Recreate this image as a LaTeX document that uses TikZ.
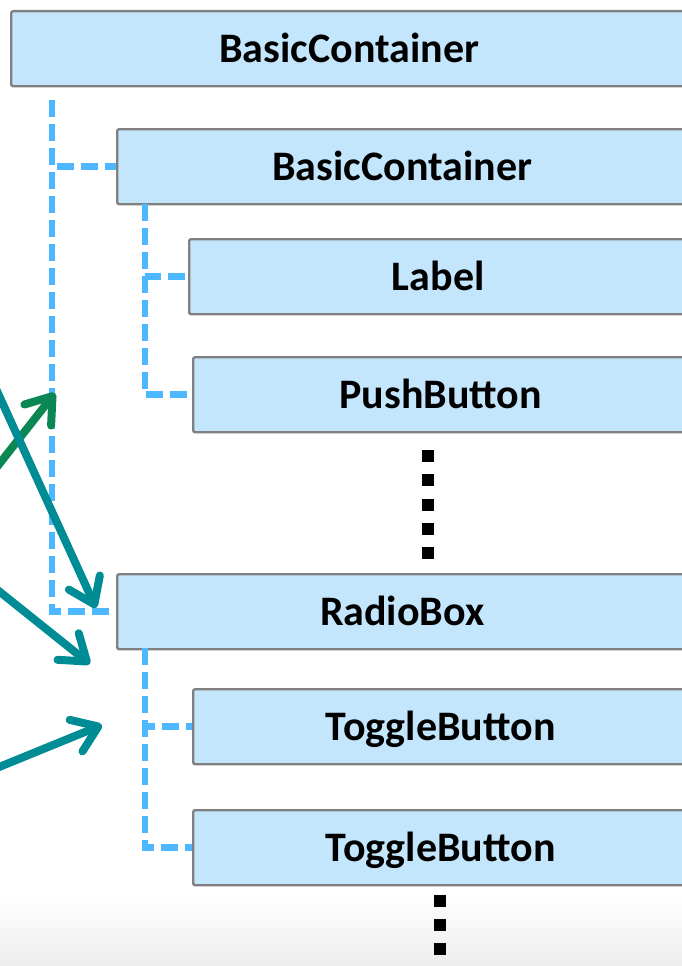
\documentclass[tikz,border=0pt]{standalone}
\usepackage{fontspec}
\setmainfont{Carlito}
\usepackage{xcolor}
\usepackage{tikz}
\usetikzlibrary{positioning, arrows.meta}

\definecolor{boxfill}{HTML}{C3E6FC}
\definecolor{boxline}{HTML}{808080}
\definecolor{treeblue}{HTML}{4DB8FF}
\definecolor{ptrteal}{HTML}{008C95}
\definecolor{ptrgreen}{HTML}{0A8752}

\begin{document}
\begin{tikzpicture}[x=1pt, y=-1pt,
  box/.style={draw=boxline, line width=2.4pt, fill=boxfill, rounded corners=2pt, anchor=north west,
    minimum height=75pt, inner sep=0pt, text height=27pt, text depth=0pt,
    font=\fontsize{42}{50}\selectfont\bfseries},
  tree/.style={draw=treeblue, line width=6.5pt, dash pattern=on 17pt off 7pt},
  arrow/.style={-{Straight Barb[length=24pt, width=34pt, round]}, line width=8pt, line cap=round,
    preaction={draw=black, opacity=0.12, transform canvas={shift={(1.5pt,-2.5pt)}}}}
]
\useasboundingbox (0,0) rectangle (682,966);
\clip (0,0) rectangle (682,966);
\shade[top color=white, bottom color=black!7] (0,895) rectangle (682,966);

% widget tree
\node[box, minimum width=676pt] (root) at (10,10) {BasicContainer};
\node[box, minimum width=570pt] (inner) at (116,128) {BasicContainer};
\node[box, minimum width=498pt] (label) at (188,238) {Label};
\node[box, minimum width=495pt] (push) at (192,356) {PushButton};
\node[box, minimum width=570pt] (radio) at (116,573) {RadioBox};
\node[box, minimum width=495pt] (toggleA) at (192,688) {ToggleButton};
\node[box, minimum width=495pt] (toggleB) at (192,809) {ToggleButton};

\coordinate (rootstem) at (52,100);
\coordinate (innerstem) at (145,204);
\coordinate (radiostem) at (145,648);
\draw[tree] (rootstem) |- (inner.west);
\draw[tree] (rootstem) |- (radio.west);
\draw[tree] (innerstem) |- (label.west);
\draw[tree] (innerstem) |- (push.west);
\draw[tree] (radiostem) |- (toggleA.west);
\draw[tree] (radiostem) |- (toggleB.west);

% more children
\foreach \i in {0,...,4}
  \fill (422,450+24.3*\i) rectangle ++(12,12);
\foreach \i in {0,1,2}
  \fill (434,895+24*\i) rectangle ++(12,12);

% pointers from the left
\coordinate (ptrA) at (-40,514);
\coordinate (ptrB) at (-40,310);
\coordinate (ptrC) at (-40,560);
\coordinate (ptrD) at (-40,783);
\coordinate (hitA) at (55,393);
\coordinate (hitB) at (96,608);
\coordinate (hitC) at (90,664);
\coordinate (hitD) at (102,725);
\draw[arrow, ptrgreen] (ptrA) -- (hitA);
\draw[arrow, ptrteal] (ptrB) -- (hitB);
\draw[arrow, ptrteal] (ptrC) -- (hitC);
\draw[arrow, ptrteal] (ptrD) -- (hitD);
\end{tikzpicture}
\end{document}
